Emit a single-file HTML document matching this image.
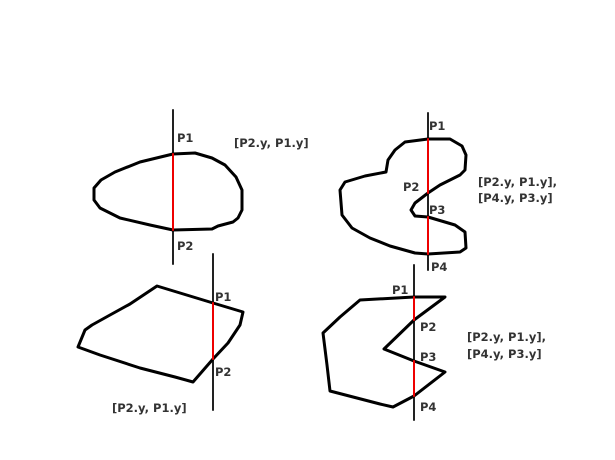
<!DOCTYPE html>
<html><head><meta charset="utf-8"><style>
html,body{margin:0;padding:0;background:#fff;}
svg{display:block;}
text{font-family:"DejaVu Sans","Liberation Sans",sans-serif;font-weight:bold;font-size:11.5px;fill:#333;}
</style></head><body>
<svg width="615" height="460" viewBox="0 0 615 460">
<g stroke-linejoin="round" stroke-linecap="round" fill="none">
  <g>
    <line x1="173" y1="110" x2="173" y2="264" stroke="#222" stroke-width="2"/>
    <path d="M173,154 L195,153 212,158 225,165 236,177 242,190 242,210 238,218 233,222 218,226 212,229 173,230 150,225 120,218 100,208 94,200 94,188 101,180 115,172 140,162 Z" stroke="#000" stroke-width="3"/>
    <line x1="173" y1="154" x2="173" y2="230" stroke="#e00" stroke-width="2"/>
  </g>
  <g>
    <line x1="428" y1="113" x2="428" y2="270" stroke="#222" stroke-width="2"/>
    <path d="M428,139 L450,139 462,146 466,155 465,170 460,175 440,185 428,193 415,203 411,210 415,216 428,217 455,225 465,232 466,248 460,252 428,254 415,253 390,246 370,238 352,228 342,215 340,190 345,182 365,176 386,172 388,160 395,150 405,142 Z" stroke="#000" stroke-width="3"/>
    <line x1="428" y1="139" x2="428" y2="193" stroke="#e00" stroke-width="2"/>
    <line x1="428" y1="217" x2="428" y2="254" stroke="#e00" stroke-width="2"/>
  </g>
  <g>
    <line x1="213" y1="254" x2="213" y2="410" stroke="#222" stroke-width="2"/>
    <path d="M157,286 L213,303 243,312 240,325 228,343 213,359 193,382 175,377 140,368 100,355 78,347 85,330 92,325 110,315 130,304 Z" stroke="#000" stroke-width="3"/>
    <line x1="213" y1="303" x2="213" y2="359" stroke="#e00" stroke-width="2"/>
  </g>
  <g>
    <line x1="414" y1="265" x2="414" y2="420" stroke="#222" stroke-width="2"/>
    <path d="M360,300 L414,297 445,297 414,320 384,349 414,361 445,372 414,396 393,407 380,404 330,391 327,365 323,333 340,317 Z" stroke="#000" stroke-width="3"/>
    <line x1="414" y1="297" x2="414" y2="320" stroke="#e00" stroke-width="2"/>
    <line x1="414" y1="361" x2="414" y2="396" stroke="#e00" stroke-width="2"/>
  </g>
</g>
<text x="177" y="142">P1</text>
<text x="177" y="250">P2</text>
<text x="234" y="147">[P2.y, P1.y]</text>

<text x="429" y="130">P1</text>
<text x="403" y="191">P2</text>
<text x="429" y="214">P3</text>
<text x="431" y="271">P4</text>
<text x="478" y="186">[P2.y, P1.y],</text>
<text x="478" y="202">[P4.y, P3.y]</text>

<text x="215" y="301">P1</text>
<text x="215" y="376">P2</text>
<text x="112" y="412">[P2.y, P1.y]</text>

<text x="392" y="294">P1</text>
<text x="420" y="331">P2</text>
<text x="420" y="361">P3</text>
<text x="420" y="411">P4</text>
<text x="467" y="341">[P2.y, P1.y],</text>
<text x="467" y="358">[P4.y, P3.y]</text>
</svg>
</body></html>
